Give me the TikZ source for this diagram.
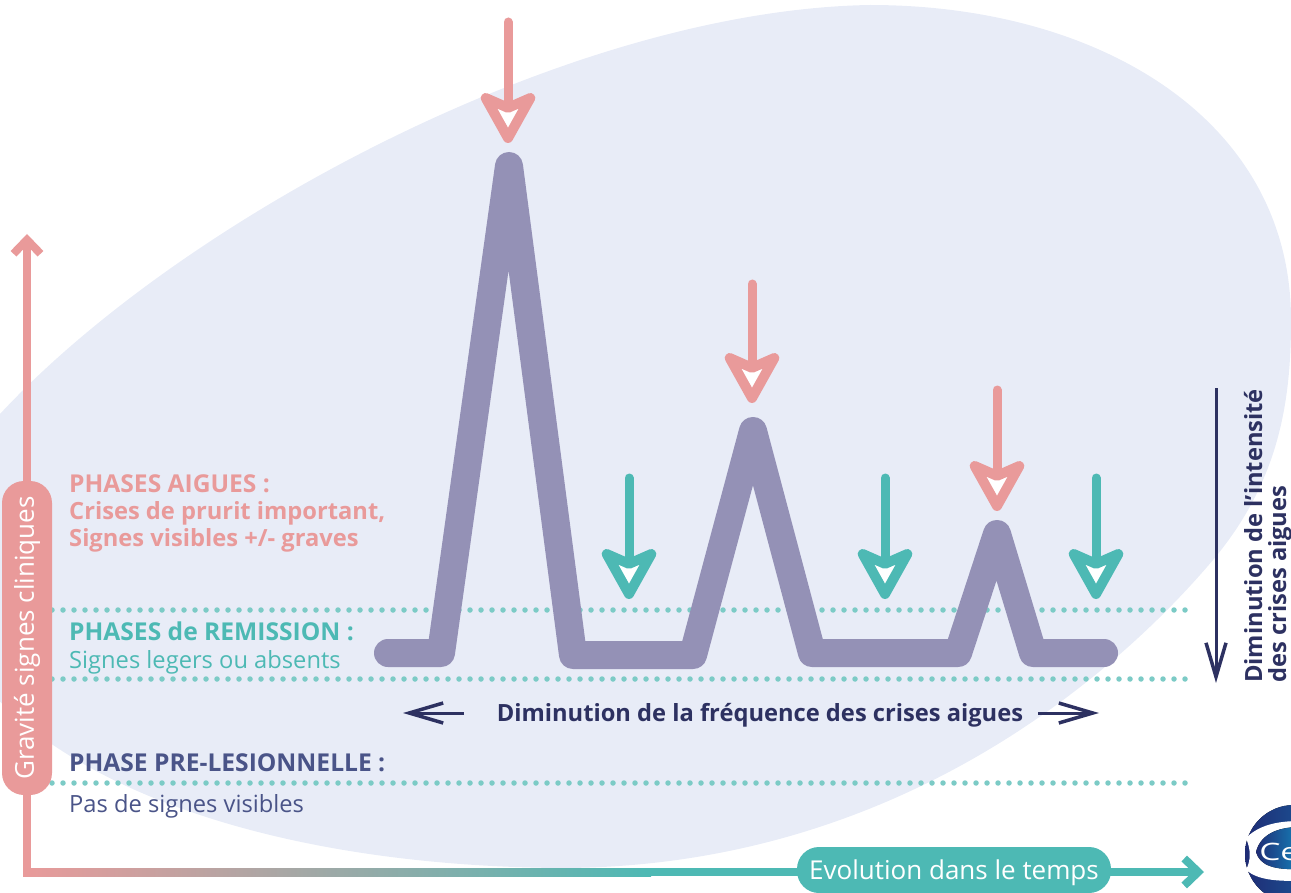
\documentclass[tikz,border=0pt]{standalone}
\usepackage{fontspec}
\setmainfont{Open Sans}
\usetikzlibrary{arrows.meta,positioning}
\definecolor{fond}{HTML}{E8ECF7}
\definecolor{rose}{HTML}{E99A9A}
\definecolor{turquoise}{HTML}{4DB9B4}
\definecolor{pointille}{HTML}{7CCBC6}
\definecolor{courbe}{HTML}{9491B6}
\definecolor{marine}{HTML}{2D3161}
\definecolor{ardoise}{HTML}{4A5488}
\definecolor{globe}{HTML}{1F2C75}
\definecolor{globeclair}{HTML}{1580B8}

\begin{document}
\begin{tikzpicture}[x=1pt,y=-1pt,
  crise/.style={line width=9pt,line cap=round,
    -{Stealth[length=60pt,width=66pt,inset=14pt,round,open,fill=white,line width=10pt]}},
  niveau/.style={pointille,line width=5.5pt,line cap=round,dash pattern=on 0pt off 11pt},
  axe/.style={line width=8pt,-{Straight Barb[length=14pt,width=27pt]}},
  marineline/.style={marine,line width=3pt,-{Straight Barb[length=34pt,width=20pt,line width=3.5pt]}},
  pill/.style={rounded corners=22pt,text=white,inner sep=0pt,align=center,
    font=\fontsize{26}{30}\selectfont},
  titre/.style={anchor=base west,inner sep=0pt,font=\fontsize{23.7}{27}\bfseries\selectfont},
  majuscule/.style={anchor=base west,inner sep=0pt,font=\fontsize{24.6}{27}\bfseries\selectfont},
  texte/.style={anchor=base west,inner sep=0pt,font=\fontsize{23.7}{27}\selectfont}]
  \useasboundingbox (0,0) rectangle (1291,893);

  % background
  \begin{scope}
    \clip (0,0) rectangle (1291,893);
    \fill[fond] (0,414) .. controls (180,220) and (570,10) .. (870,5)
      .. controls (1100,5) and (1291,120) .. (1291,320)
      .. controls (1291,400) and (1280,480) .. (1213,560)
      .. controls (1120,670) and (900,868) .. (560,868)
      .. controls (300,866) and (80,800) .. (-20,680) -- cycle;
  \end{scope}

  % levels
  \coordinate (n1_l) at (52,610);  \coordinate (n1_r) at (1190,610);
  \coordinate (n2_l) at (52,679);  \coordinate (n2_r) at (1190,679);
  \coordinate (n3_l) at (52,783);  \coordinate (n3_r) at (1190,783);
  \draw[niveau] (n1_l) -- (n1_r);
  \draw[niveau] (n2_l) -- (n2_r);
  \draw[niveau] (n3_l) -- (n3_r);

  % axes
  \coordinate (origin) at (27,872);
  \coordinate (y_end) at (27,234);
  \coordinate (grad_end) at (650,872);
  \coordinate (x_end) at (1204,872);
  \draw[axe,rose] (origin) -- (y_end);
  \draw[axe,turquoise] (grad_end) -- (x_end);
  \fill[left color=rose,right color=turquoise] (23,868) rectangle (651,876);
  \node (y_label) [pill,fill=rose,rotate=90,minimum width=314pt,minimum height=50pt] at (27,638) {Gravité signes cliniques};
  \node (x_label) [pill,fill=turquoise,minimum width=314pt,minimum height=46pt,text height=25pt] at (954,870) {Evolution dans le temps};

  % crises
  \coordinate (c0) at (388,653);
  \coordinate (c1) at (441,653);
  \coordinate (p1) at (509,166);
  \coordinate (c2) at (573,655);
  \coordinate (c3) at (693,655);
  \coordinate (p2) at (753,431);
  \coordinate (c4) at (812,653);
  \coordinate (c5) at (958,653);
  \coordinate (p3) at (997,534);
  \coordinate (c6) at (1033,653);
  \coordinate (c7) at (1104,653);
  \draw[courbe,line width=28pt,line cap=round,line join=round]
    (c0) -- (c1) -- (p1) -- (c2) -- (c3) -- (p2) -- (c4) -- (c5) -- (p3) -- (c6) -- (c7);

  % arrows
  \foreach \nom/\x/\ytop/\ytip/\col in {a/508/22/143/rose,b/752/284/403/rose,c/997/390/511/rose,
    d/629/478/599/turquoise,e/885/478/599/turquoise,f/1096/478/599/turquoise} {
    \coordinate (\nom_top) at (\x,\ytop);
    \coordinate (\nom_tip) at (\x,\ytip);
    \draw[crise,\col] (\nom_top) -- (\nom_tip);
  }

  % labels
  \node (aigue_1) [majuscule,rose] at (69,492) {PHASES AIGUES :};
  \node (aigue_2) [titre,rose] at (69,519) {Crises de prurit important,};
  \node (aigue_3) [titre,rose] at (69,546) {Signes visibles +/- graves};
  \node (remis_1) [majuscule,turquoise] at (69,640) {PHASES de REMISSION :};
  \node (remis_2) [texte,turquoise] at (69,668) {Signes legers ou absents};
  \node (pre_1) [majuscule,ardoise] at (69,771) {PHASE PRE-LESIONNELLE :};
  \node (pre_2) [texte,ardoise] at (69,812) {Pas de signes visibles};

  % frequence
  \node (freq) [titre,marine,anchor=base] at (760,721) {Diminution de la fréquence des crises aigues};
  \coordinate (fl_a) at (464,713); \coordinate (fl_b) at (403,713);
  \coordinate (fr_a) at (1038,713); \coordinate (fr_b) at (1099,713);
  \draw[marineline] (fl_a) -- (fl_b);
  \draw[marineline] (fr_a) -- (fr_b);

  % intensite
  \coordinate (int_a) at (1216,388); \coordinate (int_b) at (1216,683);
  \draw[marineline] (int_a) -- (int_b);
  \node (int_1) [titre,marine,rotate=90] at (1262,683) {Diminution de l’intensité};
  \node (int_2) [titre,marine,rotate=90] at (1286,683) {des crises aigues};

  % logo
  \begin{scope}
    \clip (1200,790) rectangle (1291,893);
    \fill[left color=globe,right color=globeclair!70!globe] (1294,854) circle (49);
    \fill[white] (1246,838) .. controls (1258,826) and (1275,821) .. (1300,821)
      -- (1300,881) .. controls (1275,881) and (1258,880) .. (1246,870)
      .. controls (1251,860) and (1251,850) .. (1246,838) -- cycle;
    \fill[left color=globe,right color=globeclair] (1256,852) .. controls (1260,836) and (1275,827) .. (1300,827)
      -- (1300,869) .. controls (1275,870) and (1260,866) .. (1256,852) -- cycle;
    \node (logo) [white,anchor=base west,inner sep=0pt,xscale=1.4,transform shape,font=\fontsize{24}{26}\selectfont] at (1259,860) {Ce};
  \end{scope}
\end{tikzpicture}
\end{document}
